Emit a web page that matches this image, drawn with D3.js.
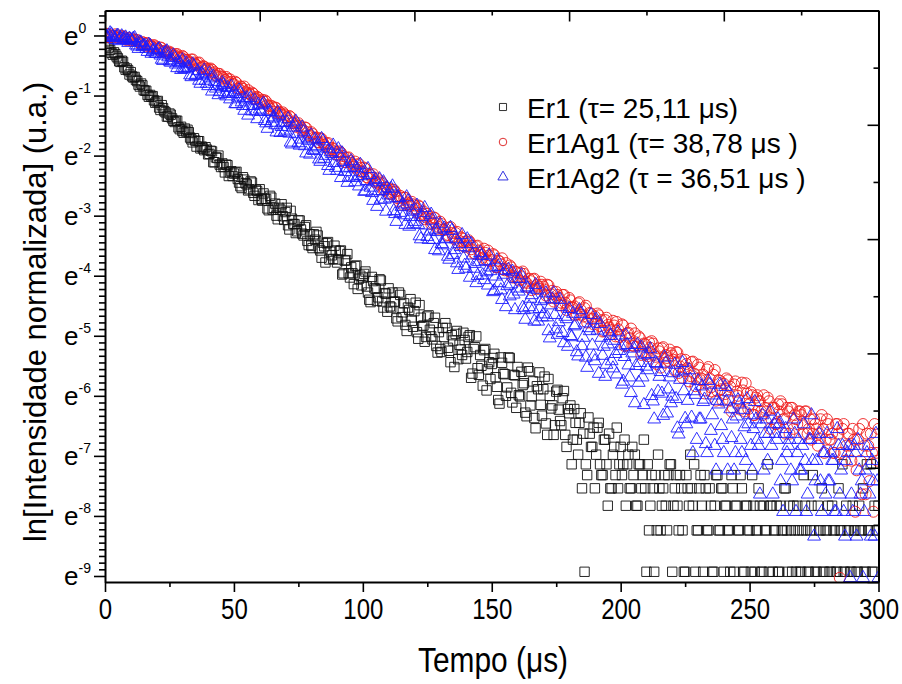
<!DOCTYPE html>
<html><head><meta charset="utf-8">
<script src="https://cdn.jsdelivr.net/npm/d3@7"></script>
<style>body{margin:0;background:#fff;} svg{display:block;font-family:"Liberation Sans",Arial,sans-serif;}</style>
</head><body><svg id="c" width="902" height="684"></svg>
<script>
// sampling times (µs)
const timeUs = d3.range(0, 301, 1);
const timeHalfUs = d3.range(0.5, 300, 1);

// ln of normalized intensity (integer-µs samples)
const er1 = [
-0.11,-0.14,-0.24,-0.32,-0.31,-0.38,-0.44,-0.44,-0.57,-0.58,
-0.61,-0.70,-0.74,-0.82,-0.80,-0.91,-0.92,-1.02,-1.02,-1.08,
-1.10,-1.20,-1.16,-1.26,-1.35,-1.30,-1.38,-1.44,-1.42,-1.56,
-1.59,-1.55,-1.57,-1.70,-1.78,-1.75,-1.76,-1.88,-1.88,-1.86,
-1.98,-1.92,-2.11,-2.03,-2.00,-2.19,-2.19,-2.15,-2.34,-2.26,
-2.30,-2.27,-2.45,-2.54,-2.40,-2.48,-2.56,-2.45,-2.67,-2.59,
-2.56,-2.75,-2.72,-2.88,-2.67,-2.90,-2.80,-3.06,-2.90,-3.01,
-2.94,-3.16,-2.92,-3.14,-3.29,-3.08,-3.23,-3.33,-3.16,-3.49,
-3.50,-3.31,-3.27,-3.54,-3.70,-3.51,-3.46,-3.73,-3.66,-3.50,
-3.78,-3.59,-3.98,-3.75,-3.64,-4.03,-3.96,-3.84,-4.22,-4.00,
-4.03,-3.93,-4.28,-4.44,-4.09,-4.22,-4.36,-4.08,-4.53,-4.30,
-4.21,-4.53,-4.44,-4.71,-4.28,-4.69,-4.46,-4.92,-4.57,-4.75,
-4.59,-4.94,-4.49,-4.84,-5.10,-4.68,-4.90,-5.06,-4.70,-5.28,
-5.22,-4.87,-4.79,-5.20,-5.44,-5.08,-4.97,-5.39,-5.23,-4.95,
-5.38,-5.02,-5.70,-5.22,-5.01,-5.65,-5.50,-5.24,-5.91,-5.44,
-5.47,-5.30,-5.85,-6.13,-5.45,-5.64,-5.86,-5.37,-6.11,-5.66,
-5.52,-6.01,-5.82,-6.28,-5.53,-6.16,-5.76,-6.54,-5.89,-6.15,
-5.89,-6.46,-5.72,-6.21,-6.65,-5.93,-6.23,-6.49,-5.92,-6.85,
-6.29,-7.14,-6.22,-6.73,-6.45,-7.54,-8.93,-7.32,-6.63,-6.85,
-7.54,-6.53,-7.14,-7.32,-6.73,-7.83,-7.54,-6.98,-7.32,-7.54,
-6.85,-7.14,-7.83,-6.98,-7.54,-7.32,-7.83,-7.14,-7.54,-6.73,
-8.93,-8.24,-7.32,-8.93,-8.24,-7.54,-7.83,-7.32,-8.24,-7.14,
-8.93,-7.54,-7.83,-7.32,-8.24,-8.93,-7.54,-6.98,-7.83,-8.93,
-8.24,-7.32,-8.93,-7.54,-8.24,-7.83,-8.93,-7.32,-8.24,-7.54,
-8.93,-7.83,-8.24,-7.32,-8.93,-7.83,-8.24,-7.54,-8.93,-7.83,
-8.24,-7.32,-8.93,-8.24,-7.83,-8.93,-8.24,-7.14,-7.83,-8.93,
-8.24,-8.93,-7.83,-8.24,-7.54,-8.93,-8.24,-7.83,-8.93,-8.24,
-8.93,-7.32,-8.24,-8.93,-7.83,-8.24,-8.93,-8.24,-7.54,-8.93,
-8.24,-8.93,-7.83,-8.24,-8.93,-8.24,-7.14,-8.93,-8.24,-8.93,
-7.83,-8.24,-8.93,-8.24,-7.54,-8.93,-8.24,-7.14,-8.93,-8.24,-7.83];

// half-µs samples (t = 0.5, 1.5, ...)
const er1Half = [
-0.13,-0.20,-0.29,-0.28,-0.35,-0.43,-0.42,-0.53,-0.55,-0.65,
-0.68,-0.69,-0.76,-0.85,-0.83,-0.92,-0.99,-0.99,-1.01,-1.12,
-1.09,-1.24,-1.21,-1.28,-1.35,-1.32,-1.42,-1.42,-1.53,-1.52,
-1.62,-1.60,-1.61,-1.73,-1.71,-1.85,-1.76,-1.85,-1.91,-1.90,
-1.97,-1.93,-2.11,-2.04,-2.15,-2.13,-2.28,-2.16,-2.28,-2.34,
-2.28,-2.39,-2.51,-2.36,-2.46,-2.58,-2.43,-2.62,-2.57,-2.74,
-2.72,-2.63,-2.72,-2.91,-2.70,-2.87,-3.00,-2.87,-2.81,-3.07,
-2.87,-3.23,-3.05,-3.14,-3.26,-3.08,-3.30,-3.19,-3.42,-3.31,
-3.54,-3.40,-3.33,-3.58,-3.45,-3.78,-3.44,-3.60,-3.72,-3.58,
-3.73,-3.58,-3.96,-3.74,-3.96,-3.86,-4.14,-3.83,-4.05,-4.16,
-3.97,-4.18,-4.40,-4.02,-4.21,-4.42,-4.06,-4.43,-4.29,-4.60,
-4.51,-4.28,-4.43,-4.76,-4.32,-4.61,-4.82,-4.53,-4.39,-4.85,
-4.45,-5.05,-4.70,-4.83,-5.02,-4.66,-5.01,-4.79,-5.17,-4.94,
-5.27,-5.02,-4.87,-5.25,-4.99,-5.52,-4.92,-5.15,-5.32,-5.07,
-5.27,-4.99,-5.63,-5.19,-5.54,-5.32,-5.83,-5.22,-5.56,-5.72,
-5.37,-5.69,-6.07,-5.36,-5.63,-6.00,-5.36,-5.95,-5.65,-6.20,
-5.99,-5.60,-5.79,-6.34,-5.59,-6.01,-6.37,-5.84,-5.61,-6.33,
-5.68,-6.65,-6.00,-6.16,-6.49,-5.90,-6.42,-6.04,-6.65,-6.22,
-6.16,-6.73,-6.45,-6.98,-6.29,-6.63,-7.14,-6.36,-6.85,-6.53,
-6.98,-6.45,-7.32,-6.73,-7.14,-6.63,-7.54,-6.85,-6.53,-7.14,
-7.32,-6.73,-7.14,-7.54,-6.85,-6.98,-7.83,-7.14,-7.32,-7.54,
-7.14,-7.83,-7.54,-7.32,-6.98,-8.24,-7.54,-7.83,-7.32,-7.14,
-7.83,-7.32,-8.24,-7.54,-8.93,-7.32,-7.83,-7.54,-7.14,-8.24,
-7.54,-7.83,-7.32,-8.24,-7.54,-8.93,-7.83,-7.32,-8.24,-7.54,
-7.83,-8.24,-8.93,-7.54,-7.83,-8.24,-7.32,-8.93,-7.83,-8.24,
-8.93,-7.83,-8.24,-7.54,-8.93,-7.83,-8.24,-8.93,-7.83,-8.24,
-7.83,-8.93,-8.24,-7.54,-8.24,-7.83,-8.93,-8.24,-7.83,-8.93,
-8.24,-7.83,-8.93,-8.24,-7.32,-8.93,-7.83,-8.24,-8.93,-8.24,
-7.83,-8.93,-8.24,-8.93,-7.54,-8.24,-8.93,-7.83,-8.24,-8.93,
-8.24,-8.93,-7.83,-8.24,-8.93,-7.14,-8.24,-8.93,-7.83,-8.24];

const er1Ag1 = [
-0.01,0.02,-0.03,0.00,0.02,-0.04,-0.03,-0.01,-0.07,-0.04,
-0.08,-0.06,-0.07,-0.11,-0.15,-0.12,-0.13,-0.18,-0.18,-0.16,
-0.20,-0.25,-0.21,-0.26,-0.30,-0.27,-0.31,-0.33,-0.31,-0.38,
-0.34,-0.40,-0.41,-0.45,-0.40,-0.48,-0.46,-0.54,-0.51,-0.55,
-0.55,-0.55,-0.63,-0.67,-0.64,-0.68,-0.71,-0.69,-0.78,-0.77,
-0.81,-0.79,-0.89,-0.86,-0.85,-0.96,-0.97,-0.95,-1.06,-1.02,
-1.09,-1.07,-1.08,-1.16,-1.22,-1.19,-1.20,-1.29,-1.29,-1.28,
-1.33,-1.42,-1.36,-1.45,-1.52,-1.46,-1.53,-1.58,-1.54,-1.67,
-1.61,-1.70,-1.70,-1.78,-1.72,-1.82,-1.80,-1.92,-1.87,-1.93,
-1.94,-1.93,-2.05,-2.11,-2.04,-2.09,-2.15,-2.10,-2.24,-2.20,
-2.26,-2.22,-2.37,-2.32,-2.31,-2.45,-2.45,-2.43,-2.57,-2.53,
-2.62,-2.56,-2.57,-2.68,-2.76,-2.70,-2.70,-2.82,-2.81,-2.77,
-2.83,-2.95,-2.85,-2.97,-3.06,-2.97,-3.05,-3.12,-3.04,-3.22,
-3.10,-3.23,-3.22,-3.32,-3.19,-3.35,-3.29,-3.47,-3.36,-3.44,
-3.43,-3.41,-3.56,-3.63,-3.51,-3.58,-3.65,-3.55,-3.74,-3.66,
-3.74,-3.66,-3.86,-3.76,-3.71,-3.91,-3.89,-3.83,-4.03,-3.93,
-4.05,-3.95,-3.93,-4.10,-4.19,-4.09,-4.06,-4.22,-4.18,-4.10,
-4.18,-4.33,-4.16,-4.31,-4.43,-4.27,-4.37,-4.45,-4.32,-4.57,
-4.37,-4.53,-4.51,-4.64,-4.44,-4.65,-4.54,-4.78,-4.62,-4.72,
-4.68,-4.63,-4.84,-4.93,-4.74,-4.82,-4.90,-4.75,-5.01,-4.89,
-4.99,-4.83,-5.16,-4.95,-4.88,-5.17,-5.11,-5.01,-5.32,-5.13,
-5.31,-5.11,-5.09,-5.32,-5.47,-5.26,-5.21,-5.45,-5.37,-5.23,
-5.33,-5.58,-5.28,-5.51,-5.70,-5.40,-5.54,-5.67,-5.43,-5.84,
-5.48,-5.74,-5.65,-5.91,-5.52,-5.86,-5.65,-6.08,-5.74,-5.89,
-5.80,-5.71,-6.07,-6.26,-5.81,-5.93,-6.08,-5.78,-6.26,-5.96,
-6.14,-5.99,-6.32,-5.99,-6.09,-6.32,-6.20,-6.03,-6.55,-6.20,
-6.47,-6.14,-6.09,-6.39,-6.63,-6.26,-6.20,-6.55,-6.39,-6.26,
-6.32,-6.63,-6.26,-6.55,-6.73,-6.39,-6.55,-6.63,-6.32,-6.95,
-6.39,-6.73,-6.63,-6.95,-6.47,-9.03,-6.55,-7.08,-6.63,-6.83,
-6.55,-7.93,-6.73,-7.08,-6.47,-7.64,-6.83,-6.63,-7.93,-6.95,-6.55];

const er1Ag1Half = [
0.03,-0.03,0.00,-0.01,-0.03,0.00,-0.04,-0.03,-0.07,-0.05,
-0.09,-0.08,-0.08,-0.12,-0.11,-0.17,-0.13,-0.16,-0.19,-0.18,
-0.22,-0.20,-0.27,-0.25,-0.29,-0.29,-0.34,-0.31,-0.35,-0.37,
-0.36,-0.41,-0.45,-0.40,-0.45,-0.49,-0.45,-0.53,-0.52,-0.58,
-0.58,-0.57,-0.61,-0.68,-0.64,-0.69,-0.74,-0.72,-0.73,-0.81,
-0.77,-0.88,-0.85,-0.89,-0.94,-0.91,-0.99,-0.97,-1.05,-1.04,
-1.11,-1.10,-1.10,-1.18,-1.17,-1.27,-1.21,-1.27,-1.32,-1.31,
-1.36,-1.34,-1.46,-1.43,-1.50,-1.50,-1.59,-1.53,-1.61,-1.66,
-1.64,-1.71,-1.78,-1.71,-1.78,-1.85,-1.79,-1.90,-1.89,-1.98,
-1.99,-1.95,-2.01,-2.11,-2.03,-2.12,-2.19,-2.15,-2.14,-2.27,
-2.20,-2.36,-2.31,-2.37,-2.43,-2.38,-2.48,-2.46,-2.57,-2.54,
-2.64,-2.61,-2.60,-2.71,-2.67,-2.82,-2.70,-2.78,-2.84,-2.81,
-2.88,-2.83,-3.00,-2.93,-3.03,-3.01,-3.14,-3.03,-3.13,-3.19,
-3.14,-3.24,-3.33,-3.20,-3.29,-3.39,-3.27,-3.42,-3.38,-3.52,
-3.50,-3.44,-3.50,-3.63,-3.50,-3.62,-3.70,-3.62,-3.58,-3.76,
-3.64,-3.86,-3.75,-3.81,-3.89,-3.79,-3.92,-3.86,-4.01,-3.94,
-4.08,-4.01,-3.97,-4.12,-4.05,-4.24,-4.05,-4.15,-4.22,-4.15,
-4.23,-4.15,-4.37,-4.25,-4.38,-4.32,-4.49,-4.32,-4.45,-4.51,
-4.41,-4.53,-4.66,-4.46,-4.57,-4.68,-4.50,-4.71,-4.63,-4.81,
-4.77,-4.66,-4.74,-4.92,-4.70,-4.86,-4.97,-4.83,-4.77,-5.02,
-4.81,-5.17,-4.96,-5.04,-5.16,-4.96,-5.16,-5.04,-5.27,-5.14,
-5.34,-5.20,-5.13,-5.35,-5.21,-5.53,-5.19,-5.32,-5.42,-5.29,
-5.40,-5.27,-5.62,-5.39,-5.59,-5.47,-5.76,-5.44,-5.63,-5.72,
-5.53,-5.72,-5.96,-5.56,-5.71,-5.93,-5.57,-5.92,-5.75,-6.08,
-5.97,-5.74,-5.85,-6.20,-5.76,-6.00,-6.23,-5.91,-5.79,-6.22,
-5.94,-6.32,-6.03,-6.09,-6.26,-5.99,-6.26,-6.09,-6.39,-6.20,
-6.47,-6.26,-6.14,-6.39,-6.20,-6.63,-6.20,-6.32,-6.47,-6.26,
-6.47,-6.26,-6.63,-6.39,-6.63,-6.47,-6.83,-6.39,-6.55,-6.73,
-6.47,-6.73,-6.95,-6.47,-6.63,-6.95,-6.47,-6.83,-6.63,-7.08,
-6.73,-7.24,-6.55,-7.64,-6.83,-6.63,-7.42,-6.95,-6.47,-7.08];

const er1Ag2 = [
0.02,-0.03,0.04,-0.02,-0.07,0.00,-0.04,-0.07,-0.03,-0.12,
-0.07,-0.05,-0.16,-0.22,-0.12,-0.17,-0.22,-0.15,-0.30,-0.24,
-0.30,-0.22,-0.40,-0.30,-0.26,-0.43,-0.41,-0.37,-0.54,-0.46,
-0.41,-0.56,-0.54,-0.66,-0.48,-0.67,-0.59,-0.80,-0.66,-0.75,
-0.84,-0.71,-0.68,-0.88,-0.99,-0.85,-0.82,-1.01,-0.96,-0.85,
-0.94,-1.14,-0.91,-1.11,-1.25,-1.04,-1.17,-1.26,-1.08,-1.39,
-1.23,-1.16,-1.42,-1.55,-1.27,-1.38,-1.49,-1.28,-1.62,-1.45,
-1.58,-1.39,-1.78,-1.53,-1.43,-1.79,-1.73,-1.61,-1.96,-1.75,
-1.66,-1.92,-1.86,-2.06,-1.72,-2.05,-1.88,-2.25,-1.97,-2.12,
-2.25,-2.01,-1.96,-2.27,-2.45,-2.20,-2.13,-2.44,-2.34,-2.15,
-2.29,-2.59,-2.22,-2.53,-2.75,-2.40,-2.59,-2.73,-2.44,-2.93,
-2.66,-2.55,-2.92,-3.10,-2.71,-2.85,-2.99,-2.69,-3.18,-2.93,
-3.10,-2.83,-3.34,-3.02,-2.87,-3.35,-3.26,-3.08,-3.57,-3.27,
-3.14,-3.49,-3.39,-3.68,-3.20,-3.65,-3.39,-3.90,-3.52,-3.71,
-3.88,-3.54,-3.47,-3.88,-4.12,-3.77,-3.67,-4.07,-3.94,-3.66,
-3.86,-4.25,-3.74,-4.12,-4.40,-3.92,-4.17,-4.34,-3.93,-4.57,
-4.21,-4.05,-4.53,-4.73,-4.21,-4.38,-4.56,-4.15,-4.76,-4.42,
-4.64,-4.29,-4.92,-4.49,-4.29,-4.89,-4.77,-4.52,-5.12,-4.72,
-4.55,-5.02,-4.84,-5.27,-4.57,-5.17,-4.79,-5.53,-4.92,-5.16,
-5.42,-4.91,-4.80,-5.33,-5.68,-5.14,-5.00,-5.54,-5.30,-4.94,
-5.17,-5.76,-4.99,-5.49,-5.95,-5.21,-5.50,-5.78,-5.19,-6.15,
-5.51,-5.30,-6.00,-6.39,-5.47,-5.68,-5.96,-5.36,-6.29,-5.69,
-6.01,-5.48,-6.54,-5.73,-5.45,-6.38,-6.08,-5.73,-6.95,-5.98,
-5.75,-6.39,-6.10,-6.80,-5.75,-6.58,-5.99,-7.24,-6.14,-6.50,
-6.95,-6.09,-5.94,-6.70,-7.24,-6.34,-6.14,-6.95,-6.52,-6.05,
-6.32,-7.24,-6.10,-6.73,-7.64,-6.32,-6.63,-7.08,-6.26,-7.64,
-6.63,-6.39,-7.42,-7.93,-6.55,-6.83,-7.24,-6.39,-7.93,-6.73,
-7.24,-6.47,-7.93,-6.73,-6.32,-8.34,-7.08,-6.63,-7.93,-6.95,
-6.63,-7.42,-7.08,-7.93,-6.55,-7.64,-6.83,-8.34,-6.95,-9.03,
-7.93,-6.95,-6.73,-7.64,-9.03,-7.24,-6.83,-8.34,-7.42,-6.63,-9.03];

const er1Ag2Half = [
-0.04,0.00,0.02,-0.04,-0.01,-0.09,-0.01,-0.05,-0.08,-0.05,
-0.09,-0.04,-0.18,-0.11,-0.19,-0.17,-0.27,-0.17,-0.26,-0.30,
-0.24,-0.33,-0.42,-0.28,-0.36,-0.45,-0.33,-0.48,-0.44,-0.57,
-0.55,-0.46,-0.53,-0.69,-0.51,-0.65,-0.75,-0.63,-0.58,-0.80,
-0.63,-0.93,-0.77,-0.84,-0.94,-0.79,-0.97,-0.87,-1.06,-0.97,
-1.14,-1.03,-0.97,-1.17,-1.06,-1.33,-1.04,-1.17,-1.26,-1.15,
-1.27,-1.13,-1.46,-1.26,-1.45,-1.36,-1.61,-1.33,-1.52,-1.61,
-1.45,-1.63,-1.81,-1.48,-1.64,-1.83,-1.53,-1.84,-1.71,-1.98,
-1.90,-1.73,-1.84,-2.10,-1.76,-2.00,-2.17,-1.94,-1.83,-2.20,
-1.89,-2.37,-2.10,-2.21,-2.36,-2.09,-2.37,-2.20,-2.51,-2.34,
-2.60,-2.42,-2.32,-2.62,-2.44,-2.85,-2.39,-2.59,-2.73,-2.54,
-2.71,-2.51,-2.97,-2.70,-2.95,-2.81,-3.15,-2.76,-3.02,-3.14,
-2.91,-3.15,-3.39,-2.95,-3.16,-3.40,-2.98,-3.40,-3.23,-3.59,
-3.47,-3.21,-3.38,-3.73,-3.25,-3.57,-3.79,-3.47,-3.32,-3.83,
-3.39,-4.03,-3.66,-3.80,-4.00,-3.62,-3.99,-3.75,-4.16,-3.92,
-4.27,-4.01,-3.85,-4.24,-3.98,-4.52,-3.90,-4.14,-4.31,-4.05,
-4.26,-3.99,-4.57,-4.19,-4.52,-4.32,-4.76,-4.23,-4.55,-4.69,
-4.39,-4.69,-5.04,-4.39,-4.65,-4.98,-4.40,-4.95,-4.68,-5.18,
-5.00,-4.63,-4.82,-5.34,-4.63,-5.03,-5.36,-4.87,-4.65,-5.34,
-4.73,-5.63,-5.03,-5.18,-5.48,-4.94,-5.42,-5.08,-5.64,-5.25,
-5.81,-5.35,-5.15,-5.69,-5.29,-6.12,-5.15,-5.45,-5.69,-5.32,
-5.57,-5.22,-6.09,-5.45,-5.93,-5.60,-6.33,-5.46,-5.89,-6.12,
-5.62,-6.05,-6.64,-5.59,-5.92,-6.47,-5.57,-6.36,-5.92,-6.73,
-6.39,-5.84,-6.06,-6.95,-5.81,-6.32,-6.83,-6.08,-5.81,-6.73,
-5.85,-7.24,-6.22,-6.39,-6.95,-6.07,-6.73,-6.23,-7.08,-6.47,
-6.83,-6.55,-6.39,-6.83,-6.47,-7.24,-6.39,-6.63,-6.83,-6.47,
-6.73,-6.47,-7.08,-6.63,-6.95,-6.73,-7.42,-6.63,-6.95,-7.24,
-6.83,-7.08,-7.64,-6.73,-7.08,-7.42,-6.73,-7.42,-6.95,-7.64,
-7.42,-6.95,-7.08,-7.93,-6.83,-7.24,-7.93,-7.08,-6.83,-7.64,
-6.83,-8.34,-7.24,-7.42,-7.93,-6.95,-7.64,-7.08,-8.34,-7.42];

const seriesNames = ["Er1 (τ= 25,11 μs)", "Er1Ag1 (τ= 38,78 μs )", "Er1Ag2 (τ = 36,51 μs )"];
const xTicks = [0, 50, 100, 150, 200, 250, 300];
const xMinorTicks = [25, 75, 125, 175, 225, 275];
const yTickExp = [0, -1, -2, -3, -4, -5, -6, -7, -8, -9];
const topTicks = [0, 60, 120, 180, 240, 300];
const topMinorTicks = [30, 90, 150, 210, 270];
const rightTicks = [0, 2, 4, 6, 8, 10];
const rightMinorTicks = [1, 3, 5, 7, 9];

const svg = d3.select("#c");
const L = 105, R = 878.5, T = 10.5, B = 582;
const x = d3.scaleLinear().domain([0, 300]).range([L, R]);
const y = d3.scaleLinear().domain([-9.1, 0.416]).range([B, T]);
const yRight = d3.scaleLinear().domain([0, 10]).range([B, T]);

svg.append("defs").append("clipPath").attr("id", "clip")
  .append("rect").attr("x", L).attr("y", T).attr("width", R - L).attr("height", B - T);

function pts(vals, half) {
  const a = vals.map((v, i) => [timeUs[i], v]);
  const b = half.map((v, i) => [timeHalfUs[i], v]);
  return a.concat(b).sort((p, q) => p[0] - q[0]);
}
const series = [
  {pts: pts(er1, er1Half), sym: d3.symbolSquare, size: 88, color: "#111111"},
  {pts: pts(er1Ag1, er1Ag1Half), sym: d3.symbolCircle, size: 95, color: "#ee2020"},
  {pts: pts(er1Ag2, er1Ag2Half), sym: d3.symbolTriangle, size: 72, color: "#1c1cff"}
];
const plot = svg.append("g").attr("clip-path", "url(#clip)");
series.forEach(s => {
  const path = d3.symbol(s.sym, s.size)();
  plot.append("g").selectAll("path").data(s.pts).join("path")
    .attr("transform", d => `translate(${x(d[0])},${y(d[1])})`)
    .attr("d", path).attr("fill", "none")
    .attr("stroke", s.color).attr("stroke-width", 1).attr("stroke-opacity", 0.9);
});

function styleAxis(g) {
  g.select(".domain").attr("stroke", "#000").attr("stroke-width", 2);
  g.selectAll(".tick line").attr("stroke", "#000").attr("stroke-width", 1.6);
}
// bottom
svg.append("g").attr("transform", `translate(0,${B})`)
  .call(d3.axisBottom(x).tickValues(xMinorTicks).tickSize(5).tickFormat(""))
  .call(g => g.select(".domain").remove()).call(styleAxis);
const gb = svg.append("g").attr("transform", `translate(0,${B})`)
  .call(d3.axisBottom(x).tickValues(xTicks).tickSizeInner(10).tickSizeOuter(0).tickPadding(6).tickFormat(d3.format("d")))
  .call(styleAxis);
gb.selectAll("text").attr("font-size", 30).attr("fill", "#000")
  .attr("font-family", "'Liberation Sans',Arial,sans-serif")
  .attr("transform", "scale(0.8,1)");
// top
svg.append("g").attr("transform", `translate(0,${T})`)
  .call(d3.axisTop(x).tickValues(topMinorTicks).tickSize(-5).tickFormat(""))
  .call(g => g.select(".domain").remove()).call(styleAxis);
svg.append("g").attr("transform", `translate(0,${T})`)
  .call(d3.axisTop(x).tickValues(topTicks).tickSizeInner(-11).tickSizeOuter(0).tickFormat(""))
  .call(styleAxis);
// right
svg.append("g").attr("transform", `translate(${R},0)`)
  .call(d3.axisRight(yRight).tickValues(rightMinorTicks).tickSize(-5).tickFormat(""))
  .call(g => g.select(".domain").remove()).call(styleAxis);
svg.append("g").attr("transform", `translate(${R},0)`)
  .call(d3.axisRight(yRight).tickValues(rightTicks).tickSizeInner(-11).tickSizeOuter(0).tickFormat(""))
  .call(styleAxis);
// left
const yMinor = [];
yTickExp.forEach(k => { for (let j = 1; j <= 8; j++) { const v = k - j / 9; if (v > -9.1) yMinor.push(v); } });
[1, 2, 3].forEach(j => yMinor.push(j / 9));
svg.append("g").attr("transform", `translate(${L},0)`)
  .call(d3.axisLeft(y).tickValues(yMinor).tickSize(6).tickFormat(""))
  .call(g => g.select(".domain").remove()).call(styleAxis);
svg.append("g").attr("transform", `translate(${L},0)`)
  .call(d3.axisLeft(y).tickValues(yTickExp).tickSizeInner(11).tickSizeOuter(0).tickFormat(""))
  .call(styleAxis);
const yl = svg.append("g").attr("font-size", 26).attr("fill", "#000");
yTickExp.forEach(k => {
  const t = yl.append("text").attr("x", 64).attr("y", y(k) + 9.5);
  t.append("tspan").text("e");
  t.append("tspan").attr("font-size", 14).attr("dy", -12).text(String(k));
});

// titles
svg.append("text").attr("transform", "translate(493,672) scale(0.83,1)").attr("text-anchor", "middle")
  .attr("font-size", 36).text("Tempo (μs)");
svg.append("text").attr("transform", "translate(46,312) rotate(-90)").attr("text-anchor", "middle")
  .attr("font-size", 31).text("ln[Intensidade normalizada] (u.a.)");

// legend
const legendSyms = [d3.symbolSquare, d3.symbolCircle, d3.symbolTriangle];
const legendSizes = [50, 45, 45];
const legendColors = ["#333", "#e03030", "#3030e0"];
const legRowY = [107, 142, 177];
seriesNames.forEach((name, i) => {
  svg.append("path").attr("d", d3.symbol(legendSyms[i], legendSizes[i])())
    .attr("transform", `translate(503,${legRowY[i]})`)
    .attr("fill", "none").attr("stroke", legendColors[i]).attr("stroke-width", 1);
  svg.append("text").attr("x", 527).attr("y", legRowY[i] + 11).attr("font-size", 28)
    .attr("fill", "#000").text(name);
});
</script></body></html>
